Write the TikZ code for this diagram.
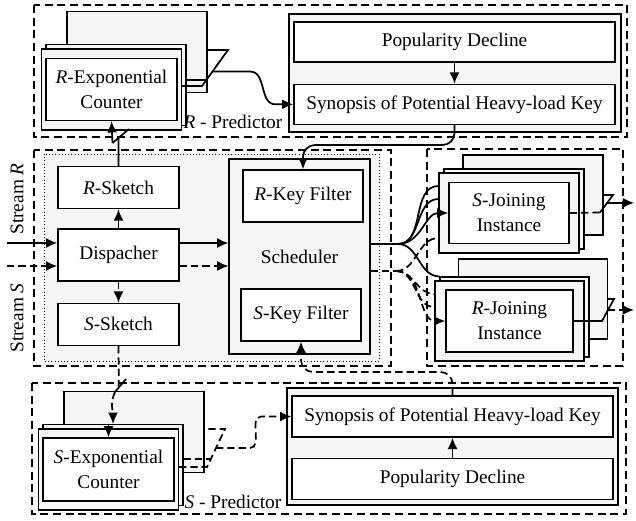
\documentclass[tikz,border=0pt]{standalone}
\usepackage{fontspec}
\setmainfont{Liberation Serif}
\usetikzlibrary{positioning,calc,arrows.meta}

\begin{document}
\begin{tikzpicture}[x=0.75pt,y=-0.75pt,font=\fontsize{14.5}{18.5}\selectfont,
				layer/.style={draw,fill=gray!8,line width=0.8pt,inner sep=0pt},
				unit/.style={draw,fill=white,line width=1pt,inner sep=0pt,align=center},
				cnt/.style={layer,minimum width=105pt,minimum height=60.75pt},
				group/.style={line width=0.8pt,dash pattern=on 6pt off 3.5pt},
				link/.style={line width=1.3pt},
				dlink/.style={link,dash pattern=on 5.5pt off 3pt},
				flow/.style={link,-{Latex[length=8.5pt,width=7.5pt]}},
				dflow/.style={dlink,-{Latex[length=8.5pt,width=7.5pt]}}]
				\useasboundingbox (0,0) rectangle (636,521);

				% frames
				\draw[group] (34,5) rectangle (627,137);
				\draw[dotted,fill=gray!8] (44,154) rectangle (379,361);
				\draw[group] (34,150) rectangle (391,366);
				\draw[group] (427,149) rectangle (623,366);
				\draw[group] (32,383) rectangle (626,514);

				% R - predictor
				\node (RECb)  [cnt]                          at (137,52) {};
				\node (RECm)  [cnt]                          at ([shift={(-21,33)}]RECb) {};
				\node (RECf)  [cnt]                          at ([shift={(-25.5,37.5)}]RECb) {};
				\node (RECi)  [unit,minimum width=98.25pt,minimum height=46.5pt] at (RECf) {\textit{R}-Exponential\\Counter};
				\node (lblRP) [anchor=base east]             at (287,128) {\textit{R} - Predictor};
				\node (boxR)  [layer,minimum width=249pt,minimum height=88.5pt] at (455,73) {};
				\node (PopR)  [unit,minimum width=240.75pt,minimum height=30pt] at (454.5,42) {Popularity Decline};
				\node (SynR)  [unit,minimum width=240.75pt,minimum height=30pt,below=15.75pt of PopR] {Synopsis of Potential Heavy-load Key};

				% dispatching and scheduling
				\node (lblR)  [rotate=90]                    at (17,199) {Stream \textit{R}};
				\node (lblS)  [rotate=90]                    at (17,318) {Stream \textit{S}};
				\node (Disp)  [unit,minimum width=90.75pt,minimum height=39pt] at (118.5,255) {Dispacher};
				\node (RSk)   [unit,minimum width=90.75pt,minimum height=31.5pt,above=14.25pt of Disp] {\textit{R}-Sketch};
				\node (SSk)   [unit,minimum width=90.75pt,minimum height=31.5pt,below=15.75pt of Disp] {\textit{S}-Sketch};
				\node (Sched) [layer,minimum width=105.75pt,minimum height=146.25pt] at (299.5,256.5) {Scheduler};
				\node (RKF)   [unit,minimum width=90pt,minimum height=39pt] at (303,196) {\textit{R}-Key Filter};
				\node (SKF)   [unit,minimum width=90pt,minimum height=39pt] at (301,315) {\textit{S}-Key Filter};

				% joining instances
				\node (SJb)   [layer,minimum width=105pt,minimum height=60pt] at (533,195) {};
				\node (SJm)   [layer,minimum width=105pt,minimum height=60pt] at ([shift={(-19,14)}]SJb) {};
				\node (SJf)   [layer,minimum width=105pt,minimum height=60pt] at ([shift={(-24,18)}]SJb) {};
				\node (SJi)   [unit,minimum width=90pt,minimum height=45.75pt] at (SJf) {\textit{S}-Joining\\Instance};
				\node (RJb)   [layer,minimum width=111.75pt,minimum height=60pt] at (533,299) {};
				\node (RJm)   [layer,minimum width=111.75pt,minimum height=60pt] at ([shift={(-18.5,18)}]RJb) {};
				\node (RJf)   [layer,minimum width=111.75pt,minimum height=60pt] at ([shift={(-23.5,22)}]RJb) {};
				\node (RJi)   [unit,minimum width=95.25pt,minimum height=46.5pt] at (RJf) {\textit{R}-Joining\\Instance};

				% S - predictor
				\node (SECb)  [cnt]                          at (134,432) {};
				\node (SECm)  [cnt]                          at ([shift={(-21,33)}]SECb) {};
				\node (SECf)  [cnt]                          at ([shift={(-25.5,37.5)}]SECb) {};
				\node (SECi)  [unit,minimum width=98.25pt,minimum height=47.25pt] at (SECf) {\textit{S}-Exponential\\Counter};
				\node (lblSP) [anchor=base east]             at (286,508) {\textit{S} - Predictor};
				\node (boxS)  [layer,minimum width=248.25pt,minimum height=87.75pt] at (452.5,446.5) {};
				\node (SynS)  [unit,minimum width=240.75pt,minimum height=30.75pt] at (452.5,416.5) {Synopsis of Potential Heavy-load Key};
				\node (PopS)  [unit,minimum width=240.75pt,minimum height=30.75pt,below=15pt of SynS] {Popularity Decline};

				% streams in
				\coordinate (inR) at (7,243);
				\coordinate (inS) at (7,266);
				\draw[flow]  (inR) -- (inR -| Disp.west);
				\draw[dflow] (inS) -- (inS -| Disp.west);
				\draw[flow]  (inR -| Disp.east) -- (inR -| Sched.west);
				\draw[dflow] (inS -| Disp.east) -- (inS -| Sched.west);
				\draw[flow]  (Disp) -- (RSk);
				\draw[dflow] (Disp) -- (SSk);

				% R side loop
				\coordinate (rz1) at (112.5,143);
				\coordinate (rz2) at (129,129);
				\draw[link] (RSk.north) -- ($(rz1)!0.37!(rz2)$);
				\draw[link] (rz1) -- (rz2);
				\draw[flow] (rz1) -- (RECi.south);
				\coordinate (rq1) at (202,86);
				\coordinate (rq2) at (228,50);
				\draw[link] (RECf.east |- rq1) -- (rq1) -- (rq2) -- (RECb.east |- rq2);
				\draw[link] (RECm.east |- 0,80) -- ($(rq1)!0.17!(rq2)$);
				\coordinate (rOut) at ($(rq1)!0.4!(rq2)$);
				\draw[flow] (rOut) -- ++(38,0) to[out=0,in=180] ($(SynR.west)+(-18,0)$) -- (SynR.west);
				\draw[flow] (PopR) -- (SynR);
				\draw[flow,rounded corners=9pt] (SynR.south) |- (380,145) -| (RKF.north);

				% S side loop
				\coordinate (sz1) at (115,392);
				\coordinate (sz2) at (126,379);
				\draw[dlink] (SSk.south) -- ($(sz1)!0.35!(sz2)$);
				\draw[link] (sz1) -- (sz2);
				\draw[dflow] (sz1) to[out=-115,in=90] (SECm.north);
				\draw[flow] (SECi.north |- SECm.north) -- (SECi.north);
				\coordinate (sq1) at (207,467);
				\coordinate (sq2) at (225,429);
				\draw[dlink] (SECf.east |- sq1) -- (sq1) -- (sq2) -- (SECb.east |- sq2);
				\draw[dlink] (SECm.east |- 0,459) -- ($(sq1)!0.21!(sq2)$);
				\coordinate (sOut) at ($(sq1)!0.5!(sq2)$);
				\draw[dflow] (sOut) -- ++(34,0) to[out=0,in=180] ($(SynS.west)+(-30,0)$) -- (SynS.west);
				\draw[flow] (PopS) -- (SynS);
				\draw[dflow,rounded corners=9pt] (SynS.north) |- (380,372) -| (SKF.south);

				% fan out to instances
				\coordinate (fR) at (398,244);
				\coordinate (fS) at (396,271);
				\draw[link]  (fR -| Sched.east) -- (fR);
				\draw[link]  (fR) to[out=0,in=180] (SJf.west |- 0,186);
				\draw[link]  (fR) to[out=0,in=180] (SJf.west |- 0,199);
				\draw[flow]  (fR) to[out=0,in=180] (SJi.west);
				\draw[link]  (fR) to[out=0,in=180] (RJm.north west);
				\draw[dlink] (fS -| Sched.east) -- (fS);
				\draw[dlink] (fS) to[out=0,in=180] (SJf.west |- 0,238);
				\draw[dlink] (fS) to[out=0,in=180] (RJf.west |- 0,294);
				\draw[dlink] (fS) to[out=0,in=180] (RJf.west |- 0,307);
				\draw[dflow] (fS) to[out=0,in=180] (RJi.west);

				% results out
				\coordinate (jq1) at (600,212.5);
				\coordinate (jq2) at (613,195);
				\draw[dlink] (SJi.east) -- (jq1);
				\draw[link]  (jq1) -- (jq2) -- (SJb.east |- jq2);
				\draw[flow]  ($(jq1)!0.55!(jq2)$) -- ++(27,0);
				\coordinate (kq1) at (602,321);
				\coordinate (kq2) at (614,299);
				\draw[link]  (RJi.east) -- (kq1) -- (kq2) -- (RJb.east |- kq2);
				\draw[dflow] ($(kq1)!0.5!(kq2)$) -- ++(26,0);
			\end{tikzpicture}
\end{document}
